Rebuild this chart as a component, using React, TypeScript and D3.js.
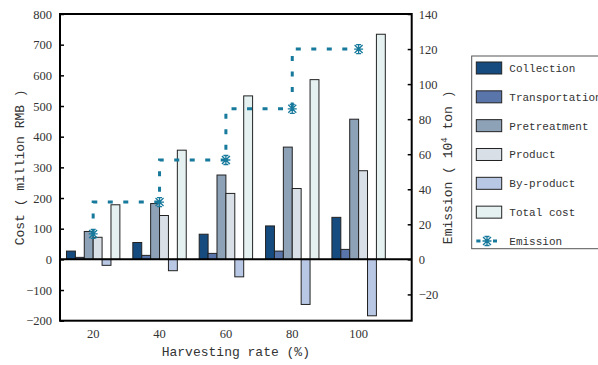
import React from "react";
import * as d3 from "d3";

const rates = [20, 40, 60, 80, 100];
const seriesNames = ["Collection", "Transportation", "Pretreatment", "Product", "By-product", "Total cost"];
const collection = [27, 55, 82, 109, 137];
const transportation = [6.5, 13, 19.5, 27, 32.5];
const pretreatment = [91, 182, 275, 366, 457];
const product = [72, 143, 215, 231, 289];
const byProduct = [-19.5, -37, -57, -147, -184];
const totalCost = [178, 356, 533, 586, 734];
const emission = [14.5, 32.7, 56.7, 85.9, 120];
const costTicks = [-200, -100, 0, 100, 200, 300, 400, 500, 600, 700, 800];
const emissionTicks = [-20, 0, 20, 40, 60, 80, 100, 120, 140];

const colors = ["#164b7f", "#5a75a9", "#8ea2b7", "#d8dfe6", "#b8c7e4", "#e5f0f0"];
const lineColor = "#17799c";

const W = 598;
const H = 365;
const margin = { left: 60, right: 186.3, top: 14, bottom: 44.3 };

const App = () => {
  const svgRef = React.useRef<SVGSVGElement>(null);

  React.useEffect(() => {
    const svg = d3.select(svgRef.current);
    svg.selectAll("*").remove();

    const x0 = margin.left;
    const x1 = W - margin.right;
    const y0 = H - margin.bottom;
    const y1 = margin.top;

    const x = d3.scaleLinear().domain([10, 116]).range([x0, x1]);
    const yL = d3.scaleLinear().domain([-200, 800]).range([y0, y1]);
    const yR = d3.scaleLinear().domain([-35, 140]).range([y0, y1]);

    const all = [collection, transportation, pretreatment, product, byProduct, totalCost];
    const bw = 8.9;

    const g = svg.append("g");

    // bars
    all.forEach((vals, si) => {
      g.append("g")
        .selectAll("rect")
        .data(vals)
        .join("rect")
        .attr("x", (d, i) => x(rates[i]) + (si - 3) * bw)
        .attr("y", (d) => yL(Math.max(0, d)))
        .attr("width", bw)
        .attr("height", (d) => Math.abs(yL(d) - yL(0)))
        .attr("fill", colors[si])
        .attr("stroke", "#222")
        .attr("stroke-width", 1);
    });

    // zero line
    g.append("line")
      .attr("x1", x0).attr("x2", x1)
      .attr("y1", yL(0)).attr("y2", yL(0))
      .attr("stroke", "#000").attr("stroke-width", 2);

    // frame
    g.append("rect")
      .attr("x", x0).attr("y", y1)
      .attr("width", x1 - x0).attr("height", y0 - y1)
      .attr("fill", "none").attr("stroke", "#000").attr("stroke-width", 2);

    // left axis
    const left = g.append("g").attr("transform", `translate(${x0},0)`)
      .call(d3.axisLeft(yL).tickValues(costTicks).tickSize(-4).tickPadding(8).tickFormat((d) => String(d).replace("-", "\u2212")));
    left.select(".domain").remove();
    left.selectAll("line").attr("stroke", "#000").attr("stroke-width", 1.5);
    left.selectAll("text").attr("font-family", "Liberation Serif").attr("font-size", 12.5).attr("fill", "#333");

    // right axis
    const right = g.append("g").attr("transform", `translate(${x1},0)`)
      .call(d3.axisRight(yR).tickValues(emissionTicks).tickSize(-4).tickPadding(7).tickFormat((d) => String(d).replace("-", "\u2212")));
    right.select(".domain").remove();
    right.selectAll("line").attr("stroke", "#000").attr("stroke-width", 1.5);
    right.selectAll("text").attr("font-family", "Liberation Serif").attr("font-size", 12.5).attr("fill", "#333");

    // x labels
    g.append("g")
      .selectAll("text")
      .data(rates)
      .join("text")
      .attr("x", (d) => x(d))
      .attr("y", y0 + 17)
      .attr("text-anchor", "middle")
      .attr("font-family", "Liberation Serif")
      .attr("font-size", 12.5)
      .attr("fill", "#333")
      .text((d) => d);

    // emission step line
    const line = d3.line<number>()
      .x((d, i) => x(rates[i]))
      .y((d) => yR(d))
      .curve(d3.curveStepBefore);
    g.append("path")
      .datum(emission)
      .attr("d", line)
      .attr("fill", "none")
      .attr("stroke", lineColor)
      .attr("stroke-width", 3)
      .attr("stroke-dasharray", "5,10.5");

    const markerPath = "M-4,-4L4,4M-4,4L4,-4M-4.5,0L4.5,0M-2.5,-4.5L2.5,-4.5M-2.5,4.5L2.5,4.5M0,-4.5L0,4.5";
    g.append("g")
      .selectAll("path")
      .data(emission)
      .join("path")
      .attr("transform", (d, i) => `translate(${x(rates[i])},${yR(d)})`)
      .attr("d", markerPath)
      .attr("fill", "none")
      .attr("stroke", lineColor)
      .attr("stroke-width", 1.3);

    // axis titles
    g.append("text")
      .attr("x", (x0 + x1) / 2)
      .attr("y", 356)
      .attr("text-anchor", "middle")
      .attr("font-family", "Liberation Mono")
      .attr("font-size", 13)
      .attr("fill", "#333")
      .text("Harvesting rate (%)");

    g.append("text")
      .attr("transform", `translate(24,${(y0 + y1) / 2}) rotate(-90)`)
      .attr("text-anchor", "middle")
      .attr("font-family", "Liberation Mono")
      .attr("font-size", 13)
      .attr("fill", "#333")
      .text("Cost ( million RMB )");

    const et = g.append("text")
      .attr("transform", `translate(452,${(y0 + y1) / 2}) rotate(-90)`)
      .attr("text-anchor", "middle")
      .attr("font-family", "Liberation Mono")
      .attr("font-size", 13)
      .attr("fill", "#333");
    et.append("tspan").text("Emission ( 10");
    et.append("tspan").attr("dy", -5).attr("font-size", 9).text("4");
    et.append("tspan").attr("dy", 5).text(" ton )");

    // legend
    const lg = g.append("g");
    lg.append("rect")
      .attr("x", 471.7).attr("y", 56)
      .attr("width", 140).attr("height", 192.7)
      .attr("fill", "#fff").attr("stroke", "#555").attr("stroke-width", 1);
    const rowY = (i: number) => 68 + i * 28.83;
    seriesNames.forEach((name, i) => {
      lg.append("rect")
        .attr("x", 476.3).attr("y", rowY(i) - 6)
        .attr("width", 25.4).attr("height", 12)
        .attr("fill", colors[i]).attr("stroke", "#222").attr("stroke-width", 1);
      lg.append("text")
        .attr("x", 509.3).attr("y", rowY(i) + 4)
        .attr("font-family", "Liberation Mono")
        .attr("font-size", 11)
        .attr("fill", "#333")
        .text(name);
    });
    const ey = rowY(6);
    lg.append("line")
      .attr("x1", 476.3).attr("x2", 480.5)
      .attr("y1", ey).attr("y2", ey)
      .attr("stroke", lineColor).attr("stroke-width", 3);
    lg.append("path")
      .attr("transform", `translate(487,${ey})`)
      .attr("d", markerPath)
      .attr("fill", "none").attr("stroke", lineColor).attr("stroke-width", 1.3);
    lg.append("line")
      .attr("x1", 493).attr("x2", 497)
      .attr("y1", ey).attr("y2", ey)
      .attr("stroke", lineColor).attr("stroke-width", 3);
    lg.append("text")
      .attr("x", 509.3).attr("y", ey + 4)
      .attr("font-family", "Liberation Mono")
      .attr("font-size", 11)
      .attr("fill", "#333")
      .text("Emission");
  }, []);

  return (
    <svg
      ref={svgRef}
      width={W}
      height={H}
      style={{ position: "absolute", left: 0, top: 0, background: "#fff" }}
    />
  );
};

export default App;
